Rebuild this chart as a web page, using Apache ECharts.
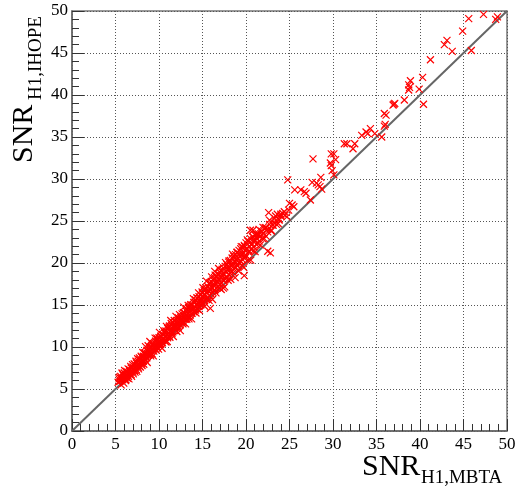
<!DOCTYPE html>
<html>
<head>
<meta charset="utf-8">
<script src="https://cdn.jsdelivr.net/npm/echarts@6/dist/echarts.min.js"></script>
<style>
html,body{margin:0;padding:0;background:#fff;}
#chart{width:522px;height:486px;}
</style>
</head>
<body>
<div id="chart"></div>
<script>
// Axis ticks (both axes)
const axisTicks = [0,5,10,15,20,25,30,35,40,45,50];
const xTitleMain = 'SNR', xTitleSub = 'H1,MBTA';
const yTitleMain = 'SNR', yTitleSub = 'H1,IHOPE';

// [SNR_H1,MBTA , SNR_H1,IHOPE] pairs
const bandLow = [
[5.3,5.8],[5.4,6.2],[5.5,5.9],[5.6,6.5],[5.6,6.0],[5.7,6.3],[5.8,6.8],[5.8,6.1],[5.9,6.6],[6.0,6.2],
[6.0,6.9],[6.1,6.4],[6.2,6.7],[6.2,6.1],[6.3,7.1],[6.4,6.6],[6.4,6.9],[6.5,6.5],[6.6,7.3],[6.6,6.8],
[6.7,7.0],[6.8,7.5],[6.8,6.7],[6.9,7.2],[7.0,7.6],[7.0,7.0],[7.1,7.4],[7.2,7.9],[7.2,7.2],[7.3,7.6],
[7.4,8.1],[7.4,7.3],[7.5,7.8],[7.6,8.3],[7.6,7.6],[7.7,8.0],[7.8,8.5],[7.8,7.7],[7.9,8.2],[8.0,8.8],
[8.0,8.0],[8.1,8.4],
[5.45,6.4],[5.65,5.5],[5.75,6.9],[5.95,5.7],[6.05,7.2],[6.15,6.0],[6.35,6.3],[6.45,7.4],[6.55,6.2],[6.75,7.7],
[6.85,6.5],[6.95,7.9],[7.05,6.8],[7.15,8.0],[7.25,7.0],[7.35,8.3],[7.45,7.1],[7.55,8.6],[7.65,7.4],[7.75,8.7],
[7.85,7.6],[7.95,8.9],[8.05,7.8]
];
const bandMid = [
[8.2,8.9],[8.2,8.3],[8.3,8.7],[8.4,9.3],[8.4,8.5],[8.5,9.0],[8.6,9.6],[8.6,8.7],[8.7,9.2],[8.8,9.0],
[8.8,9.7],[8.9,9.3],[9.0,9.9],[9.0,9.1],[9.1,9.6],[9.2,10.2],[9.2,9.2],[9.3,9.8],[9.4,10.4],[9.4,9.5],
[9.5,10.0],[9.6,10.7],[9.6,9.7],[9.7,10.3],[9.8,10.0],[9.8,10.9],[9.9,10.4],[10.0,11.1],[10.0,10.2],[10.1,10.7],
[10.2,11.3],[10.2,10.3],[10.3,10.9],[10.4,11.5],[10.4,10.5],[10.5,11.0],[10.6,11.8],[10.6,10.8],[10.7,11.3],[10.8,10.6],
[10.8,11.9],[10.9,11.4],[11.0,12.2],[11.0,11.1],[11.1,11.7],[11.2,12.5],[11.2,11.3],[11.3,11.9],[11.4,12.0],[11.4,12.8],
[11.5,11.6],[11.6,12.4],[11.6,11.8],[11.7,12.9],[11.8,12.2],[11.8,12.6],[11.9,12.0],[12.0,13.0],[12.0,12.4],[12.1,12.8],
[12.2,13.5],[12.2,12.3],[12.3,12.9],[12.4,13.2],[12.4,12.6],[12.5,13.7],[12.6,12.9],[12.6,13.4],[12.7,13.1],[12.8,14.1],
[12.8,12.9],[12.9,13.6],[13.0,14.0],[13.0,13.3],[13.1,13.8],[13.2,14.5],[13.2,13.3],[13.3,14.0],[13.4,14.7],[13.4,13.6],
[13.5,14.2],[13.6,13.8],[13.6,14.9],[13.7,14.3],[13.8,15.0],[13.8,14.0],[13.9,14.6],[14.0,15.3],[14.0,14.2],[14.1,14.8],
[14.2,15.6],[14.2,14.4],[14.3,15.0],[14.4,14.5],[14.4,15.8],[14.5,15.2],[14.6,16.0],[14.6,14.8],[14.7,15.5],[14.8,16.2],
[14.8,15.0],[14.9,15.6],
[8.15,9.35],[8.25,7.95],[8.35,9.25],[8.45,10.05],[8.55,8.75],[8.65,8.15],[8.75,10.15],[8.85,9.45],[8.95,10.65],[9.05,8.95],
[9.15,9.95],[9.25,10.35],[9.35,8.95],[9.45,9.85],[9.55,11.05],[9.65,9.65],[9.75,11.05],[9.85,10.55],[9.95,9.75],[10.05,11.75],
[10.15,10.45],[10.25,11.25],[10.35,9.85],[10.45,10.95],[10.55,11.95],[10.65,10.75],[10.75,11.65],[10.85,12.45],[10.95,10.65],[11.05,11.65],
[11.15,12.35],[11.25,11.15],[11.35,13.15],[11.45,11.75],[11.55,12.45],[11.65,11.25],[11.75,13.15],[11.85,12.35],[11.95,13.65],[12.05,11.85],
[12.15,13.15],[12.25,12.45],[12.35,13.85],[12.45,11.95],[12.55,13.35],[12.65,13.95],[12.75,12.75],[12.85,14.75],[12.95,13.55],[13.05,12.75],
[13.15,14.25],[13.25,13.65],[13.35,14.95],[13.45,13.35],[13.55,14.45],[13.65,15.05],[13.75,13.35],[13.85,14.55],[13.95,15.75],[14.05,14.25],
[14.15,15.35],[14.25,14.05],[14.35,15.85],[14.45,14.95],[14.55,16.45],[14.65,14.35],[14.75,15.75],[14.85,15.15],[14.95,16.55]
];
const bandHigh = [
[15.0,16.4],[15.0,15.3],[15.1,16.0],[15.2,16.7],[15.2,15.5],[15.3,16.2],[15.4,17.0],[15.4,15.7],[15.5,16.5],[15.6,17.2],
[15.6,15.9],[15.7,16.7],[15.8,17.5],[15.8,16.1],[15.9,16.9],[16.0,17.8],[16.0,16.3],[16.1,17.1],[16.2,18.0],[16.2,16.5],
[16.3,17.3],[16.4,18.2],[16.4,16.8],[16.5,17.6],[16.6,18.4],[16.6,17.0],[16.7,17.8],[16.8,18.7],[16.8,17.2],[16.9,18.0],
[17.0,18.9],[17.0,17.4],[17.1,18.3],[17.2,19.1],[17.2,17.6],[17.3,18.5],[17.4,19.4],[17.4,17.9],[17.5,18.7],[17.6,19.6],
[17.6,18.1],[17.7,19.0],[17.8,19.8],[17.8,18.3],[17.9,19.2],[18.0,20.1],[18.0,18.6],[18.1,19.5],[18.2,20.3],[18.2,18.8],
[18.3,19.7],[18.4,20.6],[18.4,19.0],[18.5,20.0],[18.6,20.8],[18.6,19.3],[18.7,20.2],[18.8,21.0],[18.8,19.5],[18.9,20.4],
[19.0,21.3],[19.0,19.7],[19.1,20.6],[19.2,21.5],[19.2,20.0],[19.3,20.8],[19.4,21.7],[19.4,20.2],[19.5,21.0],[19.6,21.9],
[19.6,20.4],[19.7,21.2],[19.8,22.1],[19.8,20.6],[19.9,21.5],[20.0,22.4],[20.0,20.9],[20.1,21.7],[20.2,22.6],[20.3,21.3],
[20.4,22.0],[20.5,22.9],[20.6,21.6],[20.7,22.3],[20.8,23.1],[20.9,21.9],[21.0,22.6],[21.1,23.3],[21.2,22.2],[21.3,22.9],
[21.4,23.5],[21.5,22.6],[21.6,23.2],[21.8,23.8],[21.9,22.9],[22.0,23.5],[22.2,24.2],[22.3,23.2],[22.5,24.0],[22.7,24.6],
[22.9,23.9],[23.1,24.5],[23.3,25.3],[23.5,24.6],[23.8,25.2],
[15.05,17.05],[15.15,15.75],[15.25,14.85],[15.35,16.85],[15.45,17.85],[15.55,15.75],[15.65,16.75],[15.75,15.55],[15.85,17.65],[15.95,16.75],
[16.05,18.35],[16.15,15.65],[16.25,17.55],[16.35,16.75],[16.45,18.55],[16.55,16.45],[16.65,18.25],[16.75,17.65],[16.85,19.35],[16.95,17.05],
[17.05,18.45],[17.15,16.85],[17.25,19.25],[17.35,18.05],[17.45,18.65],[17.55,17.15],[17.65,20.05],[17.75,18.25],[17.85,19.55],[17.95,17.95],
[18.05,20.25],[18.15,19.15],[18.25,18.05],[18.35,19.85],[18.45,21.05],[18.55,18.85],[18.65,20.55],[18.75,18.25],[18.85,20.05],[18.95,21.25],
[19.05,19.65],[19.15,19.05],[19.25,21.05],[19.35,20.25],[19.45,21.95],[19.55,19.75],[19.65,21.05],[19.75,19.45],[19.85,21.95],[19.95,20.65],
[20.05,21.65],[20.15,22.75],[20.25,20.35],[20.35,21.45],[20.45,22.45],[20.55,20.35],[20.65,22.15],[20.75,23.15],[20.85,21.45],[20.95,22.75],
[21.05,21.35],[21.2,23.4],[21.35,22.35],[21.5,24.0],[21.65,22.15],[21.8,23.4],[21.95,24.25],[22.1,22.9],[22.3,24.2],[22.5,23.7],
[22.7,25.1],[22.9,23.8],[23.2,24.8],[23.4,25.6],[23.7,24.7],[24.0,25.8]
];
const sparsePoints = [
[20.5,23.9],[20.8,23.9],[21.4,23.3],[22.6,26.0],[22.8,21.2],[22.5,21.4],[19.8,18.5],[15.9,14.6],[16.4,19.0],[16.1,17.0],
[17.4,17.0],[23.1,24.5],[23.8,25.1],[24.5,25.7],[24.2,25.9],[24.7,25.5],[25.5,26.7],[25.3,26.9],[25.0,27.1],[27.4,27.5],
[26.7,28.5],[26.3,28.7],[26.9,28.3],[25.6,28.7],[28.7,28.8],[28.3,29.3],[28.1,29.5],[28.5,29.1],[27.6,29.6],[24.8,29.9],
[28.6,30.2],[30.1,30.5],[29.9,31.0],[29.8,31.6],[29.7,31.9],[30.3,32.3],[27.7,32.4],[30.1,33.0],[29.8,33.0],[32.3,33.6],
[31.3,34.2],[31.6,34.2],[32.5,34.2],[33.3,35.2],[34.8,35.4],[33.8,35.6],[34.0,35.4],[34.3,36.0],[35.6,35.0],[35.9,36.3],
[36.0,36.5],[36.1,37.6],[35.9,37.8],[37.0,38.9],[37.1,39.0],[36.9,38.8],[38.2,39.4],[40.4,38.9],[39.9,40.7],[38.7,40.6],
[38.8,40.9],[38.7,41.2],[38.9,41.7],[40.3,42.1],[41.2,44.2],[43.7,45.2],[45.9,45.3],[42.8,46.0],[43.1,46.5],[44.9,47.6],
[45.6,49.1],[47.3,49.6],[48.7,49.0],[48.9,49.3],[24.4,26.1],[24.0,25.6],[23.6,25.8],[24.9,26.3]
];
const diagonal = [[0,0],[50,50]];

const FONT = 'Liberation Serif';
const chart = echarts.init(document.getElementById('chart'));

function valueAxis(isX){
  return {
    type:'value', min:axisTicks[0], max:axisTicks[axisTicks.length-1],
    interval:axisTicks[1]-axisTicks[0],
    axisLine:{show:true, onZero:false, lineStyle:{color:'#666', width:1.5}},
    axisTick:{show:true, inside:true, length:12, lineStyle:{color:'#333', width:1}},
    minorTick:{show:true, splitNumber:5, length:7, lineStyle:{color:'#333', width:1}},
    splitLine:{show:true, lineStyle:{color:'#555', width:1, type:[1,2]}},
    axisLabel:{color:'#000', fontFamily:FONT, fontSize:17, margin: isX?5:4},
  };
}

chart.setOption({
  animation:false,
  grid:{left:72, right:15, top:11, bottom:55, show:true, borderColor:'#777', borderWidth:1.5, containLabel:false},
  xAxis: valueAxis(true),
  yAxis: valueAxis(false),
  graphic:[
    {type:'text', x:362, y:467, style:{text:xTitleMain, font:'30px "Liberation Serif"', fill:'#000', align:'left', verticalAlign:'middle'}},
    {type:'text', x:421, y:478, style:{text:xTitleSub, font:'19px "Liberation Serif"', fill:'#000', align:'left', verticalAlign:'middle'}},
    {type:'text', x:24, y:163, rotation:Math.PI/2, style:{text:yTitleMain, font:'30px "Liberation Serif"', fill:'#000', align:'left', verticalAlign:'middle'}},
    {type:'text', x:36, y:100, rotation:Math.PI/2, style:{text:yTitleSub, font:'19px "Liberation Serif"', fill:'#000', align:'left', verticalAlign:'middle'}}
  ],
  series:[
    {type:'line', data:diagonal, showSymbol:false, symbol:'none', z:2,
     lineStyle:{color:'#666', width:2}},
    {type:'scatter', data:bandLow.concat(bandMid, bandHigh, sparsePoints), z:3,
     symbol:'path://M0,0L10,10M10,0L0,10', symbolSize:7,
     itemStyle:{color:'none', borderColor:'#ff0000', borderWidth:1.2, opacity:1}}
  ]
});
</script>
</body>
</html>
